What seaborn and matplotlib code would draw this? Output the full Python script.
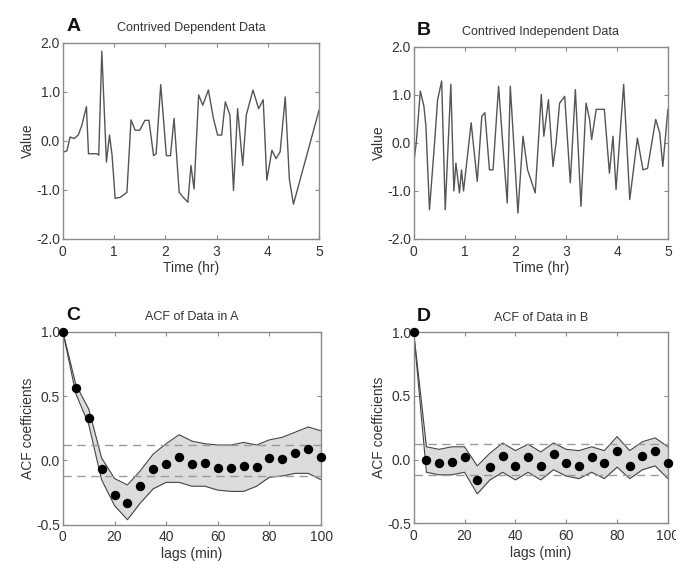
import numpy as np
import pandas as pd
import matplotlib
matplotlib.use("Agg")
import matplotlib.pyplot as plt
import seaborn as sns

# Panel A: contrived dependent series (time in hours)
t_dep = [0.00, 0.08, 0.14, 0.22, 0.30, 0.37, 0.46, 0.50, 0.66, 0.70, 0.76, 0.85,
         0.91, 0.96, 1.02, 1.12, 1.25, 1.33, 1.41, 1.50, 1.60, 1.68, 1.77, 1.82,
         1.91, 2.02, 2.10, 2.17, 2.27, 2.35, 2.44, 2.50, 2.56, 2.65, 2.73, 2.84,
         2.94, 3.02, 3.10, 3.17, 3.26, 3.33, 3.41, 3.51, 3.58, 3.71, 3.82, 3.91,
         3.98, 4.08, 4.16, 4.24, 4.34, 4.42, 4.50, 5.00]
v_dep = [-0.23, -0.20, 0.08, 0.05, 0.12, 0.32, 0.70, -0.26, -0.26, -0.29, 1.83, -0.43,
         0.12, -0.29, -1.17, -1.15, -1.05, 0.43, 0.22, 0.22, 0.42, 0.42, -0.30, -0.26,
         1.15, -0.30, -0.30, 0.46, -1.05, -1.15, -1.25, -0.50, -0.98, 0.94, 0.73, 1.04,
         0.45, 0.12, 0.12, 0.80, 0.53, -1.01, 0.66, -0.50, 0.53, 1.04, 0.66, 0.84,
         -0.80, -0.19, -0.36, -0.22, 0.90, -0.78, -1.29, 0.63]

# Panel B: contrived independent series (time in hours)
t_ind = [0.00, 0.05, 0.13, 0.20, 0.24, 0.31, 0.41, 0.47, 0.55, 0.62, 0.73, 0.79,
         0.83, 0.90, 0.94, 0.98, 1.13, 1.25, 1.34, 1.40, 1.49, 1.56, 1.67, 1.75,
         1.84, 1.90, 2.05, 2.15, 2.24, 2.39, 2.51, 2.56, 2.65, 2.74, 2.80, 2.87,
         2.97, 3.08, 3.18, 3.29, 3.39, 3.46, 3.50, 3.59, 3.75, 3.85, 3.92, 3.98,
         4.13, 4.25, 4.40, 4.51, 4.60, 4.76, 4.84, 4.90, 5.00]
v_ind = [-0.42, 0.00, 1.08, 0.77, 0.35, -1.39, 0.00, 0.90, 1.29, -1.39, 1.22, -1.00,
         -0.42, -1.04, -0.56, -1.00, 0.42, -0.80, 0.56, 0.63, -0.56, -0.56, 1.18, 0.00,
         -1.25, 1.18, -1.46, 0.14, -0.56, -1.04, 1.01, 0.14, 0.90, -0.49, 0.00, 0.83,
         0.97, -0.83, 1.11, -1.32, 0.83, 0.49, 0.07, 0.70, 0.70, -0.63, 0.14, -0.97,
         1.22, -1.18, 0.10, -0.56, -0.53, 0.49, 0.21, -0.49, 0.70]

# ACF lags (min) and coefficients with their uncertainty bands
lags = [0, 5, 10, 15, 20, 25, 30, 35, 40, 45, 50, 55, 60, 65, 70, 75, 80, 85, 90, 95, 100]

acf_a = [1.00, 0.56, 0.33, -0.07, -0.27, -0.33, -0.20, -0.07, -0.03, 0.03, -0.03,
         -0.02, -0.06, -0.06, -0.04, -0.05, 0.02, 0.01, 0.06, 0.09, 0.03]
acf_a_hi = [1.00, 0.59, 0.40, 0.02, -0.14, -0.19, -0.08, 0.05, 0.13, 0.20, 0.15,
            0.13, 0.12, 0.12, 0.14, 0.12, 0.16, 0.18, 0.22, 0.26, 0.23]
acf_a_lo = [1.00, 0.52, 0.28, -0.15, -0.35, -0.46, -0.33, -0.22, -0.17, -0.17, -0.20,
            -0.20, -0.23, -0.24, -0.24, -0.20, -0.13, -0.12, -0.10, -0.10, -0.15]

acf_b = [1.00, 0.00, -0.03, -0.02, 0.02, -0.16, -0.06, 0.03, -0.05, 0.02, -0.05,
         0.04, -0.03, -0.05, 0.02, -0.03, 0.07, -0.05, 0.03, 0.07, -0.03]
acf_b_hi = [1.00, 0.10, 0.08, 0.10, 0.10, -0.05, 0.05, 0.13, 0.07, 0.12, 0.06,
            0.13, 0.08, 0.07, 0.10, 0.07, 0.18, 0.07, 0.14, 0.17, 0.10]
acf_b_lo = [1.00, -0.10, -0.12, -0.12, -0.10, -0.27, -0.16, -0.10, -0.16, -0.10, -0.16,
            -0.08, -0.13, -0.15, -0.10, -0.15, -0.06, -0.15, -0.08, -0.05, -0.15]

sig_level = 0.12

sns.set_style("ticks")
plt.rcParams["font.family"] = ["Liberation Sans", "DejaVu Sans"]

fig = plt.figure(figsize=(6.76, 5.65), dpi=100)
ax_a = fig.add_axes([0.093, 0.577, 0.379, 0.347])
ax_b = fig.add_axes([0.612, 0.577, 0.376, 0.340])
ax_c = fig.add_axes([0.093, 0.071, 0.382, 0.342])
ax_d = fig.add_axes([0.612, 0.074, 0.376, 0.338])

frame_col = "#8a8a8a"
text_col = "#333333"


def style_axes(ax):
    for sp in ax.spines.values():
        sp.set_visible(True)
        sp.set_color(frame_col)
        sp.set_linewidth(1.0)
    ax.tick_params(direction="in", length=3, width=0.8, color=frame_col,
                   labelsize=10, labelcolor=text_col, top=True, right=True)
    ax.tick_params(axis="x", pad=4)
    ax.tick_params(axis="y", pad=2)


def add_titles(ax, letter, title):
    ax.text(0.04, 1.04, letter, transform=ax.transAxes, fontsize=14,
            fontweight="bold", color="#111111", ha="center", va="bottom")
    ax.text(0.5, 1.045, title, transform=ax.transAxes, fontsize=9,
            color=text_col, ha="center", va="bottom")


def series_panel(ax, t, v, letter, title):
    df = pd.DataFrame({"t": t, "v": v})
    sns.lineplot(data=df, x="t", y="v", ax=ax, color="#555555", linewidth=1.0,
                 sort=False, estimator=None)
    ax.set_xlim(0, 5)
    ax.set_ylim(-2, 2)
    ax.set_xticks([0, 1, 2, 3, 4, 5])
    ax.set_yticks([-2, -1, 0, 1, 2])
    ax.set_yticklabels(["-2.0", "-1.0", "0.0", "1.0", "2.0"])
    ax.set_xlabel("Time (hr)", fontsize=10, color=text_col, labelpad=2)
    ax.set_ylabel("Value", fontsize=10, color=text_col, labelpad=1)
    style_axes(ax)
    add_titles(ax, letter, title)


def acf_panel(ax, acf, hi, lo, letter, title):
    ax.fill_between(lags, lo, hi, color="#dcdcdc", linewidth=0, zorder=1)
    df_hi = pd.DataFrame({"lag": lags, "v": hi})
    df_lo = pd.DataFrame({"lag": lags, "v": lo})
    sns.lineplot(data=df_hi, x="lag", y="v", ax=ax, color="#444444",
                 linewidth=0.8, zorder=2)
    sns.lineplot(data=df_lo, x="lag", y="v", ax=ax, color="#444444",
                 linewidth=0.8, zorder=2)
    ax.axhline(sig_level, color="#9a9a9a", linestyle=(0, (6, 4)), linewidth=1.0, zorder=3)
    ax.axhline(-sig_level, color="#9a9a9a", linestyle=(0, (6, 4)), linewidth=1.0, zorder=3)
    df = pd.DataFrame({"lag": lags, "acf": acf})
    sns.scatterplot(data=df, x="lag", y="acf", ax=ax, color="black", s=46,
                    edgecolor="black", linewidth=0, zorder=4, clip_on=False)
    ax.set_xlim(0, 100)
    ax.set_ylim(-0.5, 1.0)
    ax.set_xticks([0, 20, 40, 60, 80, 100])
    ax.set_yticks([-0.5, 0.0, 0.5, 1.0])
    ax.set_yticklabels(["-0.5", "0.0", "0.5", "1.0"])
    ax.set_xlabel("lags (min)", fontsize=10, color=text_col, labelpad=2)
    ax.set_ylabel("ACF coefficients", fontsize=10, color=text_col, labelpad=1)
    style_axes(ax)
    add_titles(ax, letter, title)


series_panel(ax_a, t_dep, v_dep, "A", "Contrived Dependent Data")
series_panel(ax_b, t_ind, v_ind, "B", "Contrived Independent Data")
acf_panel(ax_c, acf_a, acf_a_hi, acf_a_lo, "C", "ACF of Data in A")
acf_panel(ax_d, acf_b, acf_b_hi, acf_b_lo, "D", "ACF of Data in B")

fig.savefig("out.png", dpi=100)
